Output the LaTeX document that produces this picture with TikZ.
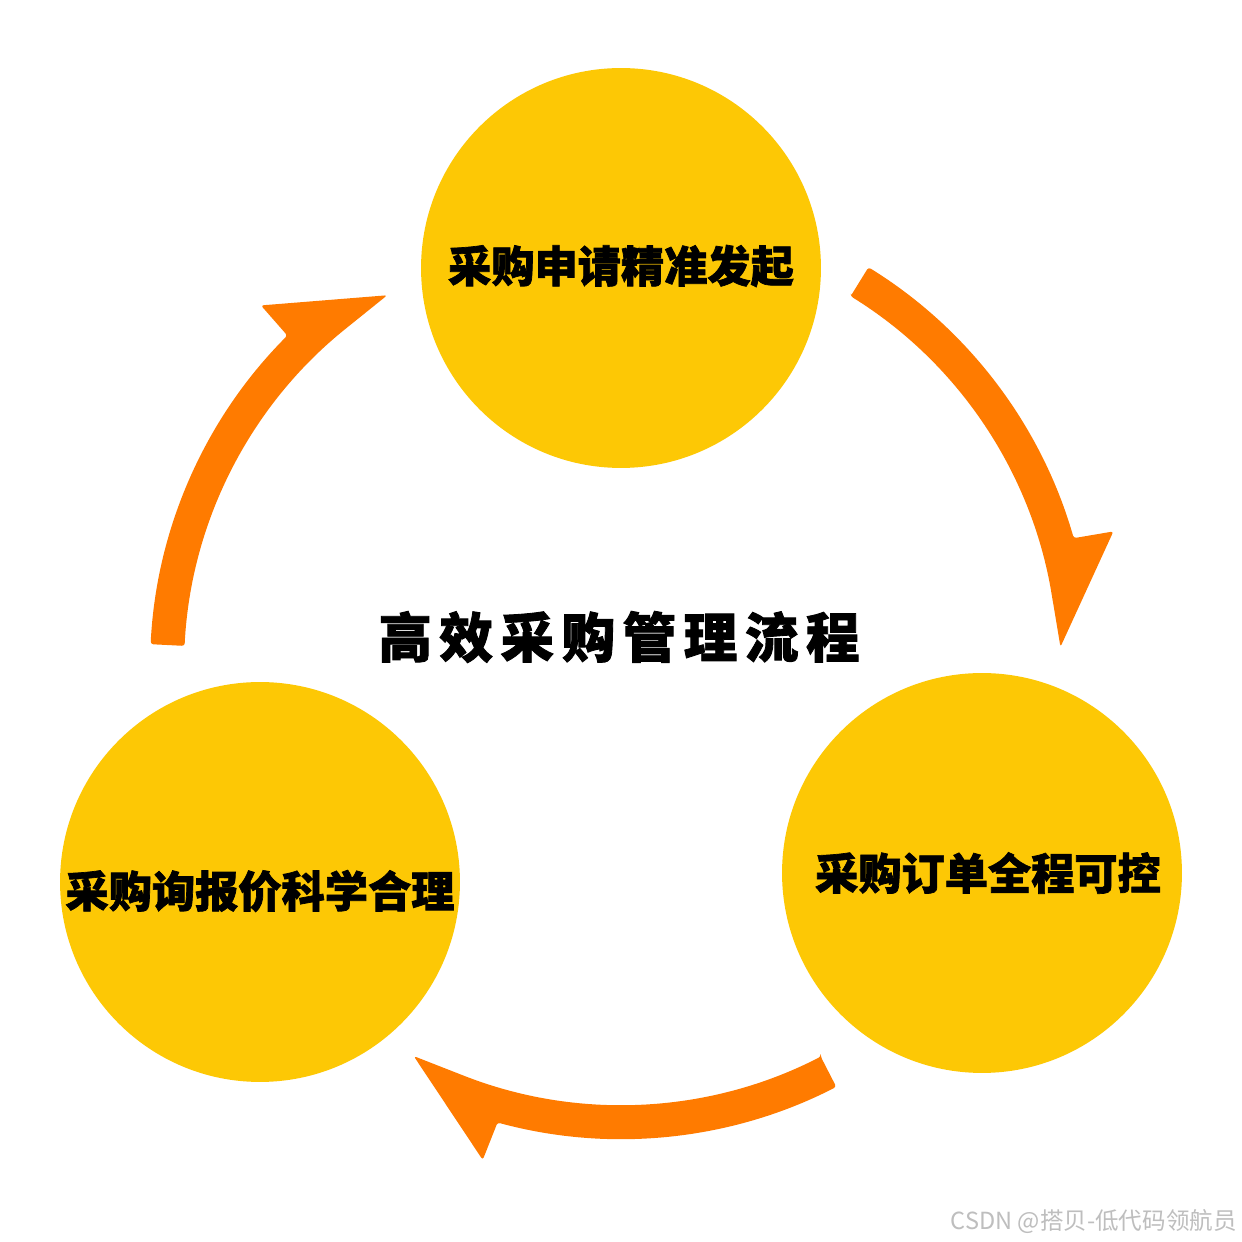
\documentclass[tikz,border=0pt]{standalone}
\usepackage{fontspec}
\newfontfamily\cjk{Noto Sans CJK SC}[BoldFeatures={FakeBold=1.6}]
\newfontfamily\cjkplain{Noto Sans CJK SC}
\newfontfamily\cjktitle{Noto Sans CJK SC}[LetterSpace=14, BoldFeatures={FakeBold=1.6}]
\usetikzlibrary{calc}
\definecolor{circyellow}{RGB}{253,200,5}
\definecolor{arroworange}{RGB}{255,123,0}
\definecolor{markgray}{RGB}{190,190,190}
\tikzset{
  stepcircle/.style={circle, fill=circyellow, minimum size=8cm, inner sep=0pt},
  steptext/.style={font=\cjk\bfseries\fontsize{24.6pt}{26pt}\selectfont, text=black, inner sep=0pt},
  titletext/.style={font=\cjktitle\bfseries\fontsize{30.5pt}{32pt}\selectfont, text=black, inner sep=0pt},
  marktext/.style={font=\cjkplain\fontsize{13.4pt}{15pt}\selectfont, text=markgray, inner sep=0pt},
  cyclearrow/.style={fill=arroworange, rounded corners=1.5pt}
}
% #1 start angle, #2 notch angle, #3 barb angle, #4 tip angle, #5 inner end angle
\newcommand{\cyclearrowpath}[5]{%
  \fill[cyclearrow] ($(C)+(#1:437)$) -- ($(C)+(#1:471)$)
    arc[start angle=#1, end angle=#2, radius=471]
    -- ($(C)+(#3:511)$) -- ($(C)+(#4:440)$) -- ($(C)+(#5:437)$)
    arc[start angle=#5, end angle=#1, radius=437] -- cycle;}
\begin{document}
\begin{tikzpicture}[x=0.02cm, y=0.02cm]
\useasboundingbox[fill=white] (0,0) rectangle (1242,1242);
\coordinate (C) at (621,574);
\node[stepcircle, label={[steptext, yshift=0.04cm]center:采购申请精准发起}] (s1) at (621,974) {};
\node[stepcircle, label={[steptext, xshift=0.12cm]center:采购订单全程可控}] (s2) at (982,369) {};
\node[stepcircle, label={[steptext, yshift=-0.18cm]center:采购询报价科学合理}] (s3) at (260,360) {};
\node[titletext] (title) at (619,605) {高效采购管理流程};
\cyclearrowpath{58.3}{16.0}{15.5}{2.75}{10.5}
\cyclearrowpath{-62.8}{-105.2}{-105.7}{-118.1}{-110.7}
\cyclearrowpath{177.1}{135.1}{134.8}{122.1}{129.6}
\node[marktext, anchor=east] (mark) at (1237,20) {CSDN @搭贝-低代码领航员};
\end{tikzpicture}
\end{document}
